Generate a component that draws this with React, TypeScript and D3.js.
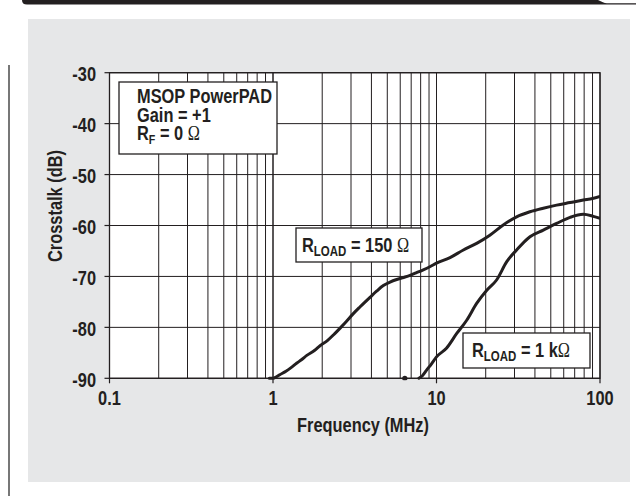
import React from "react";
import * as d3 from "d3";

// ---- Data ----
const xTickValues = [0.1, 1, 10, 100];
const xTickLabels = ["0.1", "1", "10", "100"];
const yTickValues = [-30, -40, -50, -60, -70, -80, -90];
const yTickLabels = ["-30", "-40", "-50", "-60", "-70", "-80", "-90"];

const freq150 = [0.95, 1.0, 1.05, 1.1, 1.2, 1.29, 1.4, 1.5, 1.61, 1.8, 1.94, 2.15, 2.34, 2.6, 2.8, 3.1, 3.4, 3.92, 4.3, 4.73, 5.2, 5.71, 6.3, 6.89, 7.5, 8.3, 9.1, 10, 12.1, 14.6, 17.6, 21.2, 25.6, 30.9, 37.3, 45, 54.3, 65.6, 79.1, 90, 100];
const db150 = [-90, -90, -89.7, -89.3, -88.6, -87.9, -87.0, -86.3, -85.5, -84.5, -83.6, -82.6, -81.5, -80, -78.9, -77.3, -76, -74.1, -72.9, -71.8, -71.1, -70.6, -70.2, -69.8, -69.3, -68.7, -68.1, -67.4, -66.3, -64.8, -63.5, -61.9, -59.9, -58.3, -57.3, -56.6, -56.0, -55.5, -55.0, -54.7, -54.3];

const freq1k = [7.8, 8.2, 8.7, 9.3, 10, 11.5, 13.3, 15.3, 17.6, 20.3, 23.3, 26.9, 30.9, 37.3, 45, 54.3, 65.6, 79, 91, 100];
const db1k = [-90, -89.5, -88.4, -87.2, -85.8, -84.1, -81.2, -78.6, -75.3, -72.7, -70.7, -67.1, -64.8, -62.2, -60.9, -59.6, -58.4, -57.8, -58.2, -58.6];

const dotFreq = [6.4];
const dotDb = [-90];

const W = 636;
const H = 496;
const INK = "#231f20";
const FONT = "'Liberation Sans', Arial, sans-serif";
const SX = 0.82;

const x = d3.scaleLog().domain([0.1, 100]).range([109.5, 600]);
const y = d3.scaleLinear().domain([-90, -30]).range([378.3, 72.7]);

const minorFreqs: number[] = [];
[0.1, 1, 10].forEach((dec) => {
  for (let k = 1; k <= 10; k++) minorFreqs.push(dec * k);
});

const line = d3
  .line<[number, number]>()
  .x((d) => x(d[0]))
  .y((d) => y(d[1]))
  .curve(d3.curveMonotoneX);

function NText(props: {
  x: number;
  y: number;
  size?: number;
  anchor?: string;
  rotate?: number;
  children: React.ReactNode;
}) {
  const { x: tx, y: ty, size = 20, anchor = "start", rotate = 0, children } = props;
  return (
    <text
      transform={`translate(${tx},${ty}) rotate(${rotate}) scale(${SX},1)`}
      fontFamily={FONT}
      fontWeight="bold"
      fontSize={size}
      textAnchor={anchor}
      fill={INK}
    >
      {children}
    </text>
  );
}

const Omega = () => (
  <tspan fontFamily="'Liberation Serif', serif" fontWeight="normal">
    Ω
  </tspan>
);

export default function App() {
  const [x0, x1] = x.range();
  const [yb, yt] = y.range();
  const pts150 = freq150.map((f, i) => [f, db150[i]] as [number, number]);
  const pts1k = freq1k.map((f, i) => [f, db1k[i]] as [number, number]);

  return (
    <svg width={W} height={H} style={{ position: "absolute", left: 0, top: 0 }}>
      {/* top header bar */}
      <path d="M22,0 L598,0 C602,2 604,3 607,3.2 L636,3.2 L636,4.6 L605,4.6 L27,4.6 Q22,4.6 22,0 Z" fill={INK} />
      {/* left margin rule */}
      <line x1={9} y1={65} x2={9} y2={496} stroke="#555" strokeWidth={1.6} />
      {/* gray panel */}
      <rect x={28} y={19} width={602} height={463} fill="#e6e7e8" />

      {/* plot area */}
      <rect x={x0} y={yt} width={x1 - x0} height={yb - yt} fill="#fff" />
      <defs>
        <clipPath id="plotclip">
          <rect x={x0} y={yt - 2} width={x1 - x0} height={yb - yt + 4} />
        </clipPath>
      </defs>
      {minorFreqs.map((f, i) => (
        <line key={"v" + i} x1={x(f)} x2={x(f)} y1={yt} y2={yb} stroke={INK} strokeWidth={1} />
      ))}
      {yTickValues.map((v, i) => (
        <line key={"h" + i} x1={x0} x2={x1} y1={y(v)} y2={y(v)} stroke={INK} strokeWidth={1} />
      ))}
      <rect x={x0} y={yt} width={x1 - x0} height={yb - yt} fill="none" stroke={INK} strokeWidth={1.3} />
      {/* ticks */}
      {yTickValues.map((v, i) => (
        <line key={"yt" + i} x1={x0 - 5} x2={x0} y1={y(v)} y2={y(v)} stroke={INK} strokeWidth={1.2} />
      ))}
      {xTickValues.map((v, i) => (
        <line key={"xt" + i} x1={x(v)} x2={x(v)} y1={yb} y2={yb + 5} stroke={INK} strokeWidth={1.2} />
      ))}

      {/* curves */}
      <g clipPath="url(#plotclip)">
        <path d={line(pts150) || ""} fill="none" stroke={INK} strokeWidth={3} strokeLinejoin="round" strokeLinecap="round" />
        <path d={line(pts1k) || ""} fill="none" stroke={INK} strokeWidth={3} strokeLinejoin="round" strokeLinecap="round" />
        {dotFreq.map((f, i) => (
          <circle key={"d" + i} cx={x(f)} cy={y(dotDb[i])} r={2.6} fill={INK} />
        ))}
      </g>

      {/* tick labels */}
      {yTickValues.map((v, i) => (
        <NText key={"yl" + i} x={96} y={y(v) + 8.5} anchor="end">
          {yTickLabels[i]}
        </NText>
      ))}
      {xTickValues.map((v, i) => (
        <NText key={"xl" + i} x={x(v)} y={405} anchor="middle">
          {xTickLabels[i]}
        </NText>
      ))}

      {/* axis titles */}
      <NText x={363} y={432} anchor="middle">
        Frequency (MHz)
      </NText>
      <NText x={62} y={206} anchor="middle" rotate={-90}>
        Crosstalk (dB)
      </NText>

      {/* condition box */}
      <rect x={119} y={82} width={158} height={72} fill="#fff" stroke={INK} strokeWidth={1.3} />
      <NText x={137} y={103}>MSOP PowerPAD</NText>
      <NText x={137} y={121.5}>Gain = +1</NText>
      <NText x={137} y={140}>
        R<tspan fontSize={13} dy={4}>F</tspan>
        <tspan dy={-4}> = 0 </tspan>
        <Omega />
      </NText>

      {/* label 150 ohm */}
      <rect x={296} y={228} width={126} height={34} fill="#fff" stroke={INK} strokeWidth={1.3} />
      <NText x={302} y={252}>
        R<tspan fontSize={14} dy={4}>LOAD</tspan>
        <tspan dy={-4}> = 150 </tspan>
        <Omega />
      </NText>

      {/* label 1k ohm */}
      <rect x={463} y={333} width={127} height={35} fill="#fff" stroke={INK} strokeWidth={1.3} />
      <NText x={472} y={357}>
        R<tspan fontSize={14} dy={4}>LOAD</tspan>
        <tspan dy={-4}> = 1 k</tspan>
        <Omega />
      </NText>
    </svg>
  );
}
